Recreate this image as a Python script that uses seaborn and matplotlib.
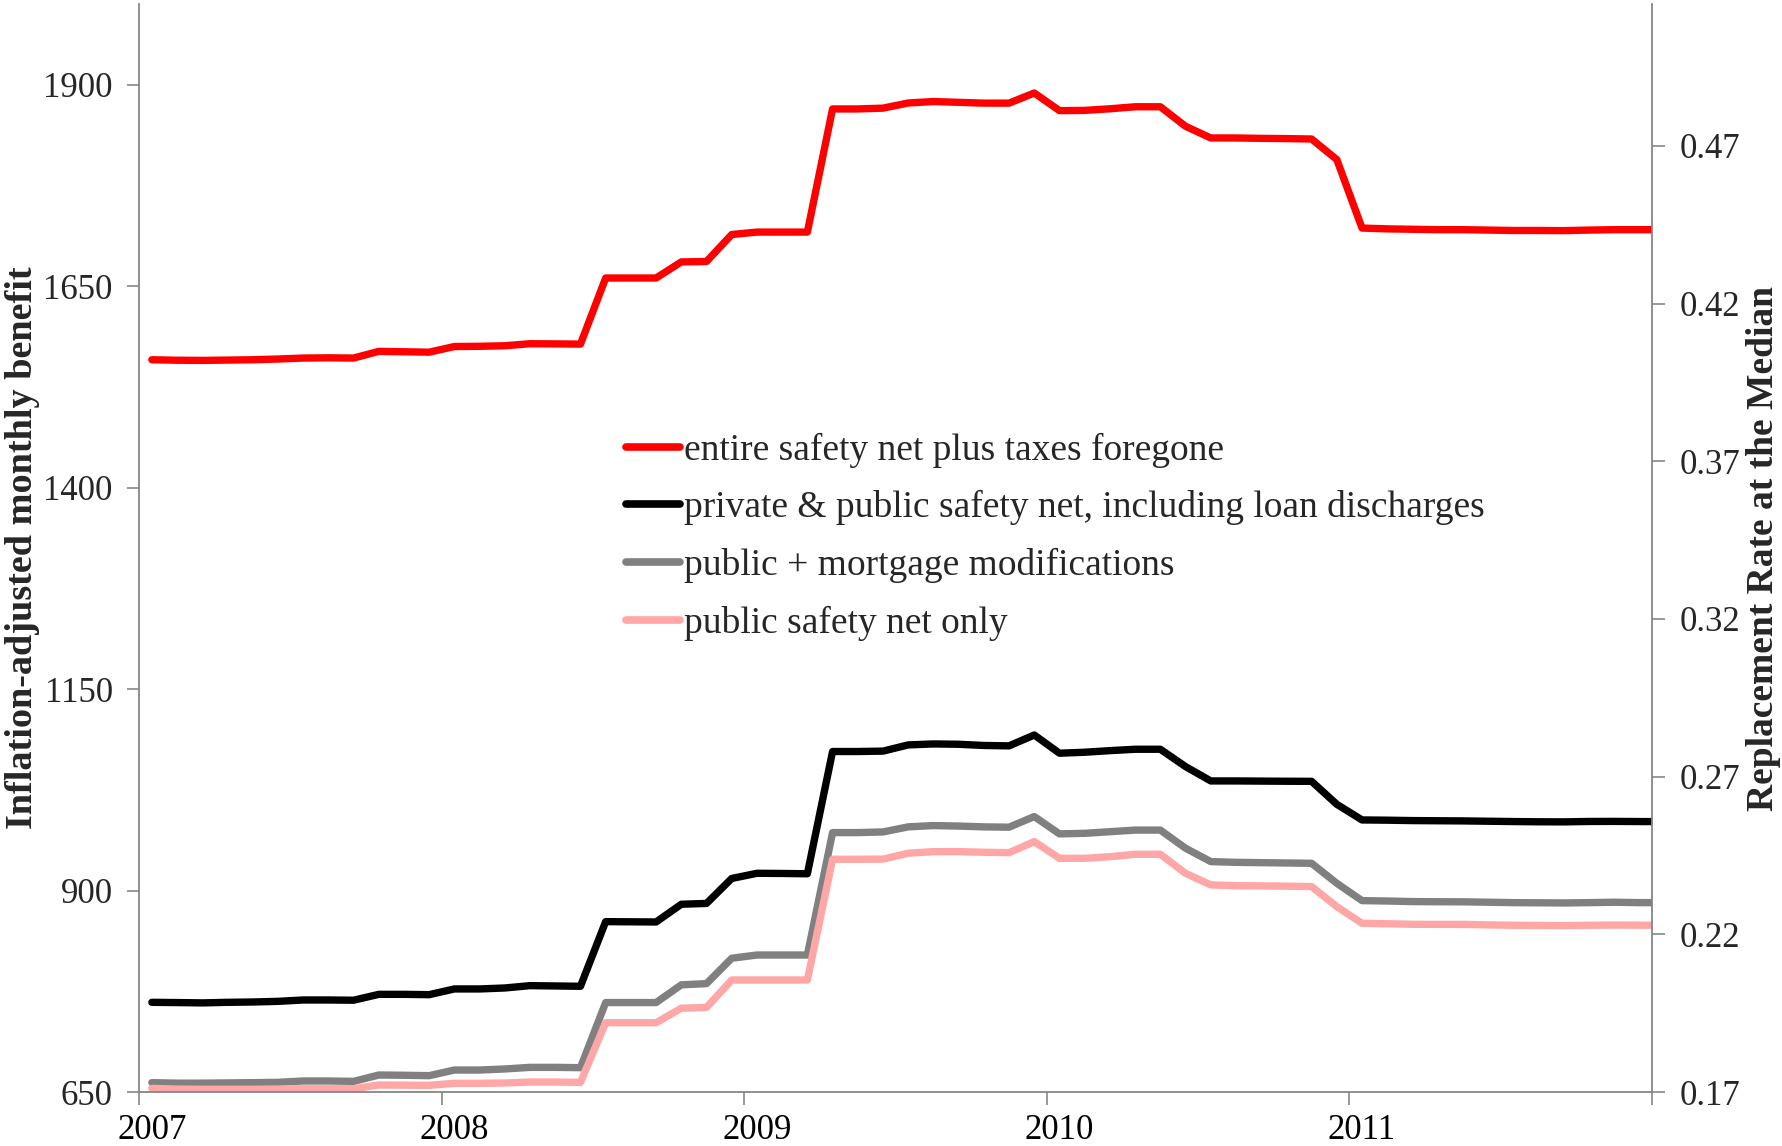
import numpy as np
import pandas as pd
import matplotlib
matplotlib.use("Agg")
import matplotlib.pyplot as plt
from matplotlib.lines import Line2D
from matplotlib.ticker import FixedLocator, NullFormatter, FixedFormatter
import seaborn as sns

# Monthly observations, Jan 2007 through Jan 2012
months = pd.period_range("2007-01", "2012-01", freq="M")

entire_plus_taxes = [
    1558.6, 1558.0, 1557.8, 1558.2, 1558.6, 1559.5, 1560.7, 1561.0, 1560.7, 1569.0,
    1568.5, 1568.0, 1575.0, 1575.3, 1576.0, 1578.5, 1578.3, 1578.0, 1660.0, 1660.0,
    1660.0, 1680.0, 1680.5, 1714.0, 1717.0, 1717.0, 1717.0, 1869.8, 1869.8, 1870.8,
    1877.2, 1879.0, 1878.0, 1877.0, 1877.0, 1889.6, 1867.7, 1868.0, 1870.0, 1872.5,
    1872.5, 1848.3, 1833.8, 1833.8, 1833.3, 1833.0, 1832.5, 1807.0, 1722.0, 1721.0,
    1720.5, 1720.0, 1720.0, 1719.5, 1719.0, 1719.0, 1718.8, 1719.5, 1720.0, 1720.0,
    1720.0,
]
private_public = [
    761.3, 761.0, 760.6, 761.3, 761.7, 762.5, 764.2, 764.2, 763.9, 771.2,
    771.2, 770.8, 777.9, 777.9, 779.1, 782.0, 781.6, 781.2, 861.4, 861.2,
    861.0, 883.0, 884.0, 915.0, 921.4, 921.2, 920.8, 1072.5, 1072.5, 1073.0,
    1080.7, 1081.9, 1081.5, 1080.0, 1079.5, 1093.0, 1070.4, 1071.6, 1073.6, 1075.3,
    1075.3, 1053.8, 1036.0, 1036.0, 1035.8, 1035.6, 1035.5, 1007.0, 987.6, 987.3,
    986.8, 986.6, 986.4, 986.0, 985.6, 985.3, 985.2, 985.7, 985.8, 985.6,
    985.5,
]
public_mortgage = [
    661.6, 661.0, 661.0, 661.3, 661.6, 662.0, 663.7, 663.7, 663.2, 671.1,
    670.8, 670.3, 677.3, 677.3, 678.6, 680.6, 680.6, 680.2, 761.0, 761.0,
    761.0, 783.0, 784.5, 816.0, 820.0, 820.0, 820.0, 971.9, 971.9, 972.7,
    979.0, 980.6, 980.0, 979.0, 978.6, 991.8, 970.3, 971.0, 973.0, 975.0,
    975.0, 952.5, 935.9, 935.0, 934.6, 934.2, 933.8, 909.0, 887.5, 887.0,
    886.3, 886.1, 886.0, 885.5, 885.0, 884.8, 884.6, 885.0, 885.5, 885.0,
    885.0,
]
public_only = [
    654.5, 653.7, 653.4, 653.4, 653.4, 653.7, 654.1, 654.1, 654.1, 658.7,
    658.5, 658.3, 660.8, 660.8, 661.2, 662.4, 662.4, 662.0, 736.0, 736.0,
    736.0, 754.0, 755.0, 789.0, 789.0, 789.0, 789.0, 938.8, 938.8, 939.0,
    946.3, 948.3, 948.3, 947.5, 947.0, 960.7, 940.0, 940.0, 942.0, 945.0,
    945.0, 921.4, 907.0, 906.0, 905.8, 905.4, 904.9, 880.0, 859.4, 858.8,
    858.1, 858.0, 858.0, 857.4, 856.9, 856.7, 856.5, 856.9, 857.2, 857.0,
    857.0,
]

series_names = [
    "entire safety net plus taxes foregone",
    "private & public safety net, including loan discharges",
    "public + mortgage modifications",
    "public safety net only",
]
series_colors = ["#FF0000", "#000000", "#808080", "#FFA6A6"]

year_labels = ["2007", "2008", "2009", "2010", "2011"]
left_ticks = [650, 900, 1150, 1400, 1650, 1900]
right_ticks = [0.17, 0.22, 0.27, 0.32, 0.37, 0.42, 0.47]

# Each month sits in the middle of its slot on the time axis
x_pos = np.array([p.year + (p.month - 0.5) / 12 for p in months])

frames = []
for name, vals in zip(series_names,
                      [entire_plus_taxes, private_public, public_mortgage, public_only]):
    frames.append(pd.DataFrame({"x": x_pos, "value": vals, "series": name}))
df = pd.concat(frames, ignore_index=True)

sns.set_style("ticks")
plt.rcParams["font.family"] = ["Liberation Serif", "DejaVu Serif"]

fig = plt.figure(figsize=(17.83, 11.46), dpi=100)
ax = fig.add_axes([0.0781, 0.0471, 0.8484, 0.9494])

sns.lineplot(
    data=df, x="x", y="value", hue="series", hue_order=series_names,
    palette=dict(zip(series_names, series_colors)), estimator=None, sort=False,
    linewidth=5.3, legend=False, ax=ax,
    solid_capstyle="round", solid_joinstyle="round",
)

axis_grey = "#868686"
tick_size = 25
title_size = 27.5
ax.set_xlim(2007, 2012)
ax.set_ylim(650, 2000)

# Year boundaries carry the tick marks, labels sit under each January
ax.xaxis.set_major_locator(FixedLocator(np.arange(2007, 2013)))
ax.xaxis.set_major_formatter(NullFormatter())
label_pos = [int(y) + 0.5 / 12 for y in year_labels]
ax.xaxis.set_minor_locator(FixedLocator(label_pos))
ax.xaxis.set_minor_formatter(FixedFormatter(year_labels))
ax.tick_params(axis="x", which="major", direction="out", length=9, width=1.2,
               color=axis_grey, bottom=True)
ax.tick_params(axis="x", which="minor", length=0, labelsize=tick_size, pad=16,
               labelcolor="black", bottom=True)

ax.set_yticks(left_ticks)
ax.set_yticklabels([str(t) for t in left_ticks])
ax.tick_params(axis="y", direction="out", length=9, width=1.2, color=axis_grey,
               labelsize=tick_size, pad=10, left=True)

ax.set_xlabel("")
ax.set_ylabel("Inflation-adjusted monthly benefit", fontsize=title_size,
              fontweight="bold")
ax.yaxis.set_label_coords(-0.0655, 0.5)

for side in ["left", "bottom"]:
    ax.spines[side].set_color(axis_grey)
    ax.spines[side].set_linewidth(1.3)
ax.spines["top"].set_visible(False)
ax.spines["right"].set_visible(False)

ax2 = ax.twinx()
ax2.set_ylim(0.17, 0.515)
ax2.set_yticks(right_ticks)
ax2.set_yticklabels([f"{t:.2f}" for t in right_ticks])
ax2.tick_params(axis="y", direction="out", length=9, width=1.2, color=axis_grey,
                labelsize=tick_size, pad=11, right=True)
ax2.set_ylabel("Replacement Rate at the Median", fontsize=27,
               fontweight="bold")
ax2.yaxis.set_label_coords(1.0625, 0.5)
ax2.spines["right"].set_color(axis_grey)
ax2.spines["right"].set_linewidth(1.3)
for side in ["top", "left", "bottom"]:
    ax2.spines[side].set_visible(False)

handles = [Line2D([0], [0], color=c, linewidth=5.5, solid_capstyle="round")
           for c in series_colors]
ax.legend(handles, series_names, loc="upper left", bbox_to_anchor=(0.3217, 0.606),
          frameon=False, fontsize=27, handlelength=1.45, handletextpad=0.1,
          labelspacing=0.6, borderpad=0, borderaxespad=0)

fig.savefig("out.png", dpi=100)
